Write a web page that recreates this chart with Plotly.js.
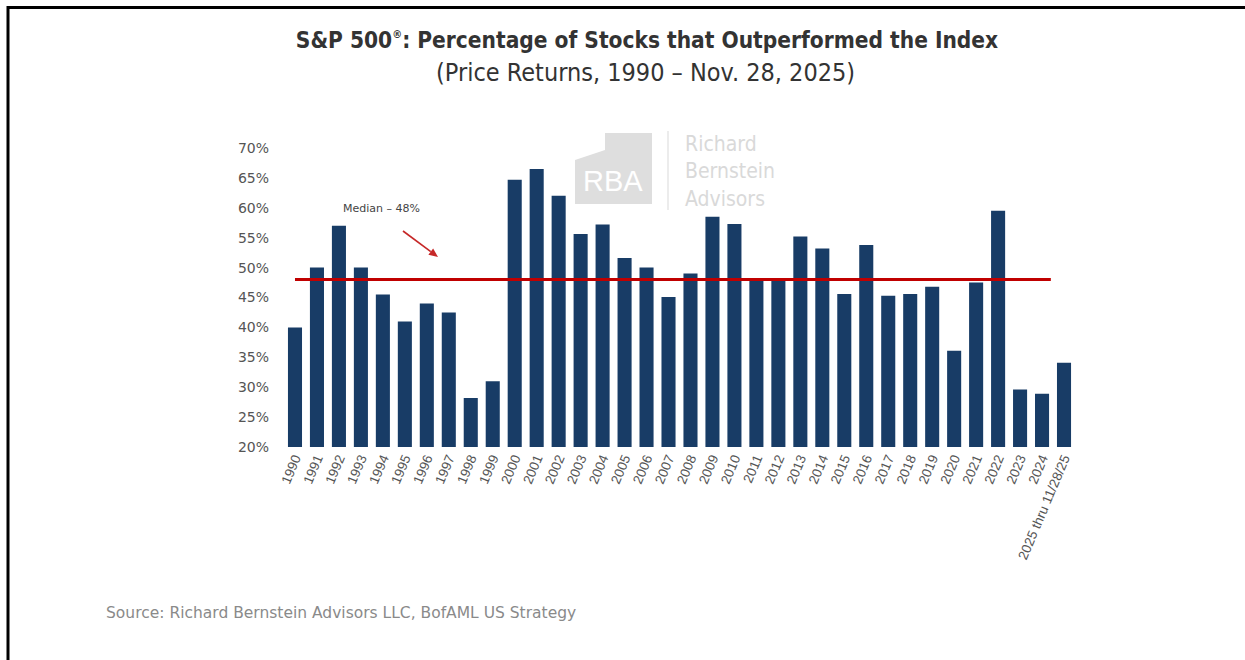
<!DOCTYPE html>
<html>
<head>
<meta charset="utf-8">
<script src="https://cdn.plot.ly/plotly-3.0.1.min.js"></script>
<style>html,body{margin:0;padding:0;background:#fff;}#chart{width:1245px;height:660px;}</style>
</head>
<body>
<div id="chart"></div>
<script>
// ---- data ----
const years = ['1990','1991','1992','1993','1994','1995','1996','1997','1998','1999',
  '2000','2001','2002','2003','2004','2005','2006','2007','2008','2009',
  '2010','2011','2012','2013','2014','2015','2016','2017','2018','2019',
  '2020','2021','2022','2023','2024','2025 thru 11/28/25'];
const pctOutperformed = [40, 50, 57, 50, 45.5, 41, 44, 42.5, 28.2, 31,
  64.7, 66.5, 62, 55.6, 57.2, 51.6, 50, 45.1, 49, 58.5,
  57.3, 48, 48, 55.2, 53.2, 45.6, 53.8, 45.3, 45.6, 46.8,
  36.1, 47.5, 59.5, 29.6, 28.9, 34.1];
const median = 48;
const yTicks = [20, 25, 30, 35, 40, 45, 50, 55, 60, 65, 70];
const yTickText = yTicks.map(v => v + '%');

// ---- layout helpers (pixel -> paper) ----
const L = 284, T = 148, W = 791, H = 299;
const px = x => (x - L) / W;
const py = y => (T + H - y) / H;

const trace = {
  type: 'bar', x: years, y: pctOutperformed,
  marker: {color: '#183c66'}, hoverinfo: 'x+y'
};

const narrow = 'Liberation Sans Narrow, DejaVu Sans Condensed, Arial Narrow, sans-serif';
const greyW = '#d9d9d9';
const arrowRed = '#c62828';
// arrow geometry (pixels)
const tail = [403, 231], tip = [438, 257];
const dx = tip[0] - tail[0], dy = tip[1] - tail[1], len = Math.hypot(dx, dy);
const ux = dx / len, uy = dy / len, hl = 9, hw = 4;
const bx = tip[0] - ux * hl, by = tip[1] - uy * hl;

const layout = {
  width: 1245, height: 660,
  margin: {l: L, r: 1245 - L - W, t: T, b: 660 - T - H},
  paper_bgcolor: '#ffffff', plot_bgcolor: '#ffffff',
  showlegend: false, bargap: 0.36,
  font: {family: 'Liberation Sans, Arial, sans-serif', color: '#444'},
  title: {
    text: '<b>S&amp;P 500<sup><span style="font-size:11px">®</span></sup>: Percentage of Stocks that Outperformed the Index</b>',
    font: {family: narrow, size: 22.5, color: '#333'},
    x: 647 / 1245, xref: 'container', xanchor: 'center',
    y: 1 - 40 / 660, yref: 'container', yanchor: 'middle'
  },
  xaxis: {
    type: 'category', tickangle: -67, showgrid: false, zeroline: false, showline: false,
    ticks: '', tickfont: {size: 13.5, color: '#555'}, range: [-0.5, 35.5]
  },
  yaxis: {
    range: [20, 70], tickvals: yTicks, ticktext: yTickText, showgrid: false,
    zeroline: false, showline: false, ticks: '', ticklabelstandoff: 14,
    tickfont: {size: 14, color: '#555', family: 'DejaVu Sans, sans-serif'}
  },
  shapes: [
    // frame (top and left edges)
    {type: 'line', xref: 'paper', yref: 'paper', x0: px(7), x1: px(1245), y0: py(7.5), y1: py(7.5), line: {color: '#000', width: 3}},
    {type: 'line', xref: 'paper', yref: 'paper', x0: px(8), x1: px(8), y0: py(6), y1: py(660), line: {color: '#000', width: 3}},
    // RBA logo watermark
    {type: 'path', xref: 'paper', yref: 'paper', layer: 'below', line: {width: 0}, fillcolor: '#dedede',
     path: `M ${px(605)} ${py(133)} L ${px(652)} ${py(133)} L ${px(652)} ${py(204)} L ${px(575)} ${py(204)} L ${px(575)} ${py(160)} L ${px(605)} ${py(150)} Z`},
    {type: 'line', xref: 'paper', yref: 'paper', layer: 'below', x0: px(668), x1: px(668), y0: py(131), y1: py(210), line: {color: '#e6e6e6', width: 1.5}},
    // median line
    {type: 'line', xref: 'x', yref: 'y', x0: 0, x1: 34.4, y0: median, y1: median, line: {color: '#c00000', width: 3}},
    // arrow pointing to median line
    {type: 'line', xref: 'paper', yref: 'paper', x0: px(tail[0]), y0: py(tail[1]), x1: px(bx), y1: py(by), line: {color: arrowRed, width: 1.6}},
    {type: 'path', xref: 'paper', yref: 'paper', line: {width: 0}, fillcolor: arrowRed,
     path: `M ${px(tip[0])} ${py(tip[1])} L ${px(bx - uy * hw)} ${py(by + ux * hw)} L ${px(bx + uy * hw)} ${py(by - ux * hw)} Z`}
  ],
  annotations: [
    {text: '(Price Returns, 1990 – Nov. 28, 2025)', xref: 'paper', yref: 'paper', x: px(645), y: py(73),
     xanchor: 'center', yanchor: 'middle', showarrow: false,
     font: {family: narrow, size: 25, color: '#333'}},
    {text: 'RBA', xref: 'paper', yref: 'paper', x: px(613), y: py(181), xanchor: 'center', yanchor: 'middle', showarrow: false,
     font: {family: 'Liberation Sans, Arial, sans-serif', size: 29, color: '#ffffff'}},
    {text: 'Richard<br>Bernstein<br>Advisors', xref: 'paper', yref: 'paper', x: px(683), y: py(171), xanchor: 'left', yanchor: 'middle',
     align: 'left', showarrow: false,
     font: {family: narrow, size: 21, color: greyW}},
    {text: 'Median – ' + median + '%', xref: 'paper', yref: 'paper', x: px(381), y: py(208), xanchor: 'center', yanchor: 'middle', showarrow: false,
     font: {family: 'DejaVu Sans, sans-serif', size: 11, color: '#444'}},
    {text: 'Source: Richard Bernstein Advisors LLC, BofAML US Strategy', xref: 'paper', yref: 'paper', x: px(104), y: py(613),
     xanchor: 'left', yanchor: 'middle', showarrow: false,
     font: {family: 'DejaVu Sans, sans-serif', size: 15.5, color: '#8a8a8a'}}
  ]
};

Plotly.newPlot('chart', [trace], layout, {displayModeBar: false, staticPlot: true});
</script>
</body>
</html>
